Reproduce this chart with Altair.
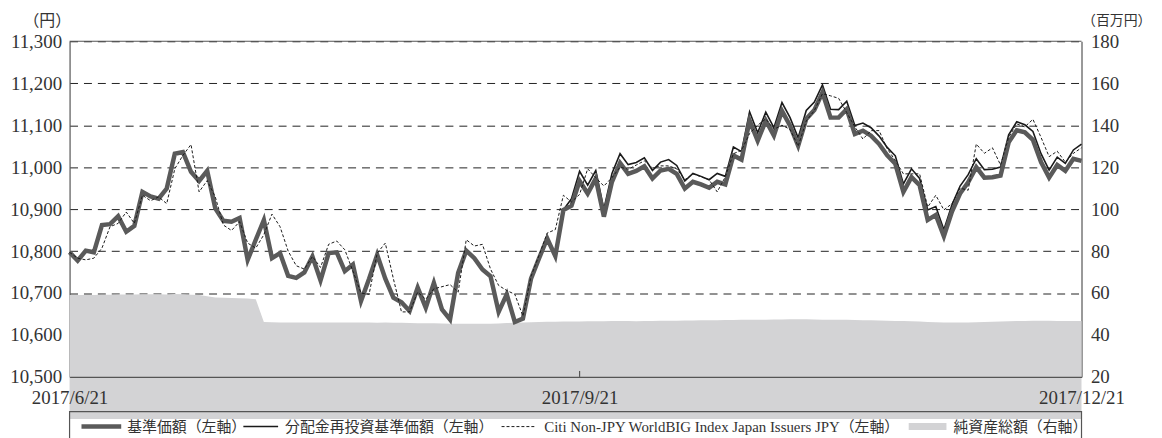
import altair as alt
import pandas as pd

# ---- data ----
tick_dates = ["2017/6/21", "2017/9/21", "2017/12/21"]
tick_index = [0, 63, 125]

nav = [10797, 10777, 10801, 10797, 10862, 10864, 10883, 10846, 10860, 10941,
       10930, 10925, 10949, 11032, 11036, 10989, 10967, 10991, 10902, 10872,
       10870, 10879, 10779, 10827, 10874, 10783, 10795, 10741, 10736, 10749,
       10787, 10730, 10795, 10797, 10752, 10768, 10681, 10734, 10791, 10734,
       10689, 10678, 10657, 10713, 10665, 10724, 10661, 10637, 10748, 10801,
       10783, 10756, 10740, 10655, 10697, 10631, 10639, 10734, 10783, 10830,
       10788, 10898, 10908, 10967, 10937, 10973, 10882, 10965, 11010, 10984,
       10991, 11002, 10973, 10992, 10996, 10984, 10949, 10965, 10959, 10951,
       10965, 10959, 11028, 11018, 11111, 11063, 11111, 11075, 11134, 11099,
       11051, 11115, 11136, 11178, 11118, 11118, 11138, 11079, 11087, 11075,
       11055, 11028, 11008, 10941, 10976, 10957, 10874, 10886, 10835, 10894,
       10937, 10964, 11000, 10975, 10976, 10980, 11059, 11088, 11083, 11065,
       11012, 10975, 11005, 10991, 11020, 11015]

reinv = [10797, 10777, 10801, 10797, 10862, 10864, 10883, 10846, 10860, 10941,
         10930, 10925, 10949, 11032, 11036, 10989, 10967, 10991, 10902, 10872,
         10870, 10879, 10779, 10827, 10874, 10783, 10795, 10741, 10736, 10749,
         10787, 10730, 10795, 10797, 10752, 10768, 10681, 10734, 10791, 10734,
         10689, 10678, 10657, 10713, 10665, 10724, 10661, 10637, 10748, 10801,
         10783, 10756, 10740, 10655, 10697, 10631, 10639, 10734, 10783, 10830,
         10788, 10898, 10925, 10990, 10957, 10992, 10900, 10985, 11032, 11006,
         11011, 11022, 10992, 11012, 11018, 11004, 10967, 10985, 10978, 10970,
         10985, 10978, 11048, 11037, 11132, 11082, 11131, 11094, 11154, 11118,
         11070, 11135, 11155, 11196, 11138, 11137, 11157, 11099, 11105, 11094,
         11074, 11047, 11027, 10960, 10996, 10973, 10898, 10906, 10851, 10910,
         10955, 10982, 11020, 10994, 10995, 11000, 11077, 11108, 11101, 11085,
         11032, 10993, 11024, 11009, 11041, 11055]

citi = [10797, 10783, 10779, 10783, 10807, 10858, 10866, 10893, 10866, 10933,
        10920, 10929, 10913, 10996, 11028, 11054, 10941, 10968, 10929, 10862,
        10849, 10870, 10819, 10807, 10839, 10888, 10858, 10800, 10765, 10757,
        10787, 10761, 10816, 10824, 10803, 10752, 10700, 10697, 10795, 10819,
        10734, 10655, 10655, 10702, 10685, 10710, 10715, 10720, 10702, 10827,
        10812, 10816, 10757, 10718, 10706, 10697, 10645, 10740, 10790, 10843,
        10851, 10933, 10917, 10935, 10996, 10975, 10955, 10975, 11000, 10995,
        11005, 11015, 10998, 11003, 11003, 10996, 10970, 10984, 10977, 10970,
        10941, 10977, 11032, 11040, 11080, 11100, 11115, 11090, 11100, 11090,
        11050, 11110, 11135, 11175, 11170, 11164, 11130, 11096, 11067, 11087,
        11087, 11044, 11016, 10984, 10984, 10984, 10905, 10933, 10898, 10913,
        10950, 10945, 11055, 11033, 11046, 11005, 11071, 11103, 11096, 11114,
        11071, 11025, 11038, 11012, 11033, 11046]

assets = [59.0, 59.0, 59.1, 59.1, 59.2, 59.2, 59.3, 59.3, 59.3, 59.4,
          59.4, 59.4, 59.3, 59.5, 59.4, 59.2, 59.0, 58.4, 57.9, 57.7,
          57.6, 57.5, 57.4, 57.0, 46.2, 46.1, 46.0, 46.0, 45.9, 45.9,
          45.9, 46.0, 46.0, 45.9, 45.9, 45.9, 46.0, 45.9, 45.8, 45.9,
          45.8, 45.8, 45.7, 45.6, 45.6, 45.6, 45.5, 45.4, 45.4, 45.4,
          45.3, 45.3, 45.4, 45.5, 45.7, 45.8, 46.0, 46.1, 46.2, 46.3,
          46.3, 46.4, 46.4, 46.4, 46.5, 46.5, 46.5, 46.6, 46.6, 46.6,
          46.5, 46.6, 46.7, 46.8, 46.8, 46.8, 46.9, 46.9, 47.0, 47.0,
          47.0, 47.1, 47.1, 47.2, 47.2, 47.3, 47.3, 47.4, 47.4, 47.5,
          47.5, 47.5, 47.4, 47.3, 47.3, 47.2, 47.2, 47.1, 47.0, 47.0,
          46.9, 46.8, 46.7, 46.6, 46.5, 46.4, 46.2, 46.1, 46.0, 45.9,
          45.9, 46.0, 46.1, 46.2, 46.3, 46.4, 46.5, 46.6, 46.7, 46.8,
          46.8, 46.8, 46.7, 46.7, 46.7, 46.7]

left_ticks = list(range(10500, 11301, 100))
right_ticks = list(range(20, 181, 20))

legend_labels = ["基準価額（左軸）", "分配金再投資基準価額（左軸）",
                 "Citi Non-JPY WorldBIG Index Japan Issuers JPY（左軸）", "純資産総額（右軸）"]

n = len(nav)
df = pd.DataFrame({"i": list(range(n)), "nav": nav, "reinv": reinv,
                   "citi": citi, "assets": assets})

W, H = 1019, 338
FONT = "Liberation Serif, Noto Sans CJK JP"
DARK = "#1a1a1a"
FRAME = "#555555"

label_expr = " : ".join(
    f"datum.value == {v} ? '{d}'" for v, d in zip(tick_index[:-1], tick_dates[:-1])
) + f" : '{tick_dates[-1]}'"

x_enc = alt.X("i:Q",
              scale=alt.Scale(domain=[0, n - 1], nice=False, zero=False),
              axis=alt.Axis(values=tick_index, labelExpr=label_expr, ticks=False,
                            grid=False, labelPadding=12, title=None,
                            domainColor=FRAME, domainWidth=1.2, zindex=1,
                            labelFlush=False, labelOverlap=False))

left_scale = alt.Scale(domain=[10500, 11300], nice=False, zero=False)
left_axis = alt.Axis(orient="left", values=left_ticks, format=",.0f", ticks=False,
                     grid=True, gridDash=[8, 6], gridColor="#222222", gridWidth=1,
                     labelPadding=8, domainColor=FRAME, domainWidth=1.2,
                     title="（円）", titleAngle=0, titleAlign="center",
                     titleBaseline="middle", titleX=-23, titleY=-21, titleFontSize=16)
right_axis = alt.Axis(orient="right", values=right_ticks, format=".0f", ticks=False,
                      grid=False, labelPadding=9, domainColor=FRAME, domainWidth=1.2,
                      title="（百万円）", titleAngle=0, titleAlign="right",
                      titleBaseline="middle", titleX=70, titleY=-21, titleFontSize=14)

base = alt.Chart(df)

area = base.mark_area(color="#d3d3d5", opacity=1).encode(
    x=x_enc,
    y=alt.Y("assets:Q", scale=alt.Scale(domain=[20, 180], nice=False, zero=False),
            axis=right_axis),
    y2=alt.value(H),
)

thin = base.mark_line(color=DARK, strokeWidth=1.6).encode(
    x=x_enc, y=alt.Y("reinv:Q", scale=left_scale, axis=left_axis))
thick = base.mark_line(color="#5a5a5a", strokeWidth=4.5).encode(
    x=x_enc, y=alt.Y("nav:Q", scale=left_scale, axis=left_axis))
dashed = base.mark_line(color=DARK, strokeWidth=1, strokeDash=[3, 2]).encode(
    x=x_enc, y=alt.Y("citi:Q", scale=left_scale, axis=left_axis))

lines = alt.layer(thin, thick, dashed)

one = alt.Chart(pd.DataFrame({"a": [0]}))

top_rule = one.mark_rule(color=FRAME, strokeWidth=1.2).encode(
    x=alt.value(0), x2=alt.value(W), y=alt.value(0))
mid_tick = one.mark_rule(color=FRAME, strokeWidth=1.2).encode(
    x=alt.datum(tick_index[1]), y=alt.value(H - 6), y2=alt.value(H))

# ---- legend (drawn below the axis) ----
LY = 388
legend_box = one.mark_rect(fill="white", fillOpacity=0, stroke=FRAME,
                           strokeWidth=1.2).encode(
    x=alt.value(0), x2=alt.value(W), y=alt.value(373), y2=alt.value(420))
sw1 = one.mark_rule(color="#5a5a5a", strokeWidth=4.5).encode(
    x=alt.value(12), x2=alt.value(52), y=alt.value(LY))
sw2 = one.mark_rule(color=DARK, strokeWidth=1.6).encode(
    x=alt.value(175), x2=alt.value(210), y=alt.value(LY))
sw3 = one.mark_rule(color=DARK, strokeWidth=1, strokeDash=[3, 2]).encode(
    x=alt.value(435), x2=alt.value(470), y=alt.value(LY))
sw4 = one.mark_rule(color="#d3d3d5", strokeWidth=7).encode(
    x=alt.value(845), x2=alt.value(883), y=alt.value(LY))

text_x = [58, 217, 478, 890]
texts = [one.mark_text(text=t, font=FONT, fontSize=15, color="#333333",
                       align="left", baseline="middle").encode(
    x=alt.value(tx), y=alt.value(LY)) for t, tx in zip(legend_labels, text_x)]

chart = alt.layer(area, lines, top_rule, mid_tick, legend_box,
                  sw1, sw2, sw3, sw4, *texts).resolve_scale(
    y="independent"
).properties(
    width=W, height=H,
    autosize=alt.AutoSizeParams(type="none"),
    padding={"left": 62, "top": 32, "right": 73, "bottom": 60},
).configure_view(stroke=None).configure_axis(
    labelFont=FONT, labelFontSize=19, labelColor="#333333",
    titleFont=FONT, titleColor="#333333", titleFontWeight="normal",
)

chart.save("out.html", embed_options={"renderer": "svg", "actions": False})
